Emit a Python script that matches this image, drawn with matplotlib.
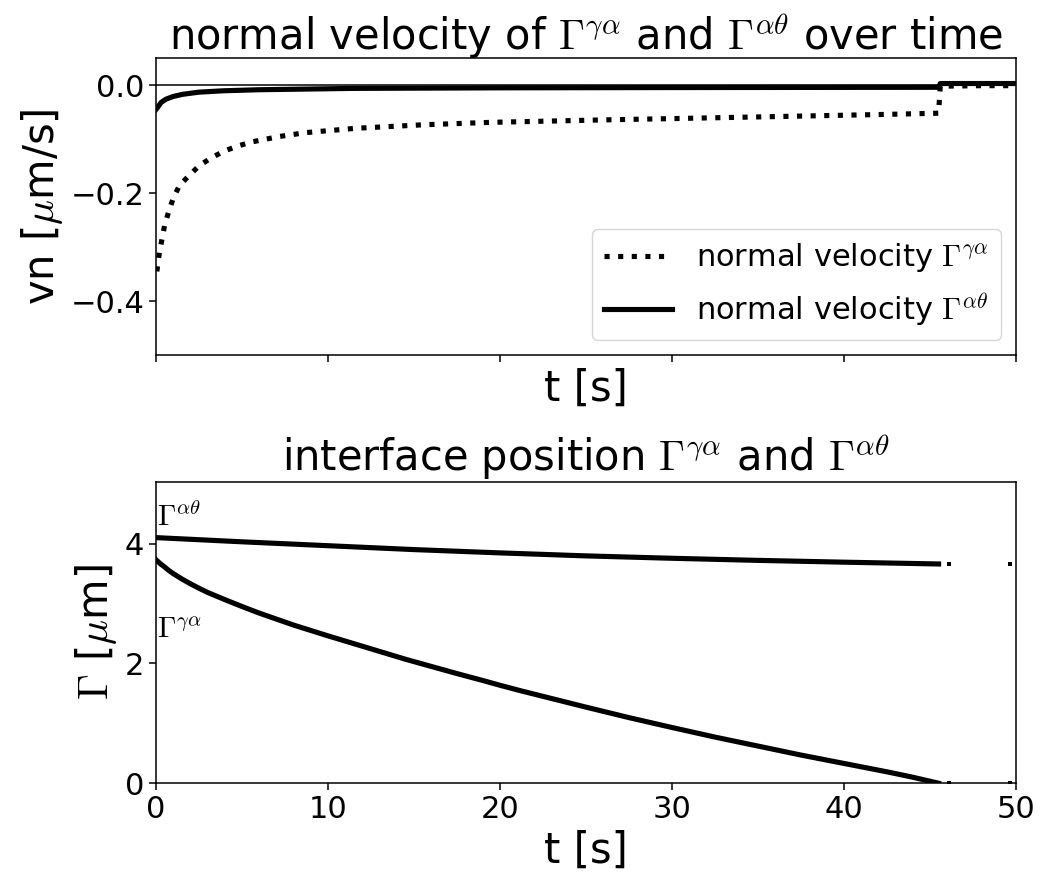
import numpy as np
import matplotlib
matplotlib.use("Agg")
import matplotlib.pyplot as plt

plt.rcParams['mathtext.fontset'] = 'cm'

# normal velocity data (top panel)
t_vn_ga = [0.05, 0.2, 0.35, 0.5, 0.75, 1.0, 1.36, 1.94, 2.52, 3.2, 3.97, 4.84, 5.6, 7.2, 8.7,
           11.6, 15.5, 19.4, 23.0, 26.6, 30.0, 34.0, 38.0, 42.0, 45.5, 45.6, 48.0, 50.0]
vn_ga = [-0.345, -0.31, -0.285, -0.26, -0.233, -0.21, -0.186, -0.167, -0.149, -0.135, -0.122,
         -0.112, -0.105, -0.095, -0.088, -0.080, -0.0735, -0.069, -0.0665, -0.064, -0.062,
         -0.0595, -0.057, -0.0545, -0.052, -0.002, -0.001, -0.001]

t_vn_at = [0.0, 0.1, 0.3, 0.58, 1.0, 1.55, 2.5, 3.9, 6.0, 11.6, 20.0, 30.0, 45.5, 45.6, 48.0, 50.0]
vn_at = [-0.045, -0.041, -0.032, -0.026, -0.021, -0.017, -0.013, -0.0105, -0.0085, -0.006,
         -0.005, -0.0045, -0.004, 0.003, 0.003, 0.003]

# interface positions (bottom panel)
t_pos_at = [0, 5, 10, 15, 20, 25, 30, 35, 40, 45.5]
pos_at = [4.10, 4.03, 3.965, 3.90, 3.845, 3.795, 3.755, 3.72, 3.69, 3.66]

t_pos_ga = [0, 0.25, 0.5, 0.75, 1.0, 1.5, 2, 2.5, 3, 4, 5, 6, 7, 8, 9, 10, 11.5, 13, 14.5, 16,
            17.5, 19, 20, 21.25, 22.5, 23.75, 25, 27.5, 30, 32.5, 35, 37.5, 40, 42.5, 44, 45.5]
pos_ga = [3.73, 3.665, 3.61, 3.55, 3.50, 3.41, 3.33, 3.255, 3.185, 3.065, 2.95, 2.84, 2.74,
          2.64, 2.55, 2.46, 2.33, 2.20, 2.07, 1.95, 1.83, 1.715, 1.635, 1.54, 1.45, 1.36,
          1.27, 1.095, 0.93, 0.77, 0.62, 0.47, 0.33, 0.19, 0.10, 0.0]

# isolated samples after the gamma-alpha interface vanishes
t_after = [46.1, 49.65]
pos_at_after = [3.66, 3.66]
pos_ga_after = [0.0, 0.0]

fig = plt.figure(figsize=(10.42, 8.81), dpi=100)
ax1 = fig.add_axes([0.1497, 0.597, 0.8253, 0.337])
ax2 = fig.add_axes([0.1497, 0.111, 0.8253, 0.342])

lw = 3.7
ax1.axhline(0, color='black', lw=1.1)
ax1.plot(t_vn_ga, vn_ga, ':', color='black', lw=lw, label=r'normal velocity $\Gamma^{\gamma\alpha}$')
ax1.plot(t_vn_at, vn_at, '-', color='black', lw=lw, label=r'normal velocity $\Gamma^{\alpha\theta}$')
ax1.set_xlim(0, 50)
ax1.set_ylim(-0.5, 0.05)
ax1.set_yticks([0.0, -0.2, -0.4])
ax1.set_xticks([0, 10, 20, 30, 40, 50])
ax1.tick_params(labelbottom=False)
ax1.set_xlabel('t [s]', fontsize=30)
ax1.set_ylabel(r'vn [$\mu$m/s]', fontsize=30)
ax1.set_title(r'normal velocity of $\Gamma^{\gamma\alpha}$ and $\Gamma^{\alpha\theta}$ over time', fontsize=30)
ax1.legend(loc='lower right', fontsize=22, handlelength=2.2)

ax2.plot(t_pos_at, pos_at, '-', color='black', lw=lw)
ax2.plot(t_pos_ga, pos_ga, '-', color='black', lw=lw)
ax2.plot(t_after, pos_at_after, 's', color='black', ms=3.5, mew=0)
ax2.plot(t_after, pos_ga_after, 's', color='black', ms=3.5, mew=0)
ax2.text(0.05, 4.3, r'$\Gamma^{\alpha\theta}$', fontsize=21)
ax2.text(0.05, 2.42, r'$\Gamma^{\gamma\alpha}$', fontsize=21)
ax2.set_xlim(0, 50)
ax2.set_ylim(0, 5.03)
ax2.set_yticks([0, 2, 4])
ax2.set_xticks([0, 10, 20, 30, 40, 50])
ax2.set_xlabel('t [s]', fontsize=30)
ax2.set_ylabel(r'$\Gamma$ [$\mu$m]', fontsize=30)
ax2.set_title(r'interface position $\Gamma^{\gamma\alpha}$ and $\Gamma^{\alpha\theta}$', fontsize=30)

for ax in (ax1, ax2):
    ax.tick_params(labelsize=22, length=5, width=1.1)
    for s in ax.spines.values():
        s.set_linewidth(1.1)

fig.savefig('out.png', dpi=100)
